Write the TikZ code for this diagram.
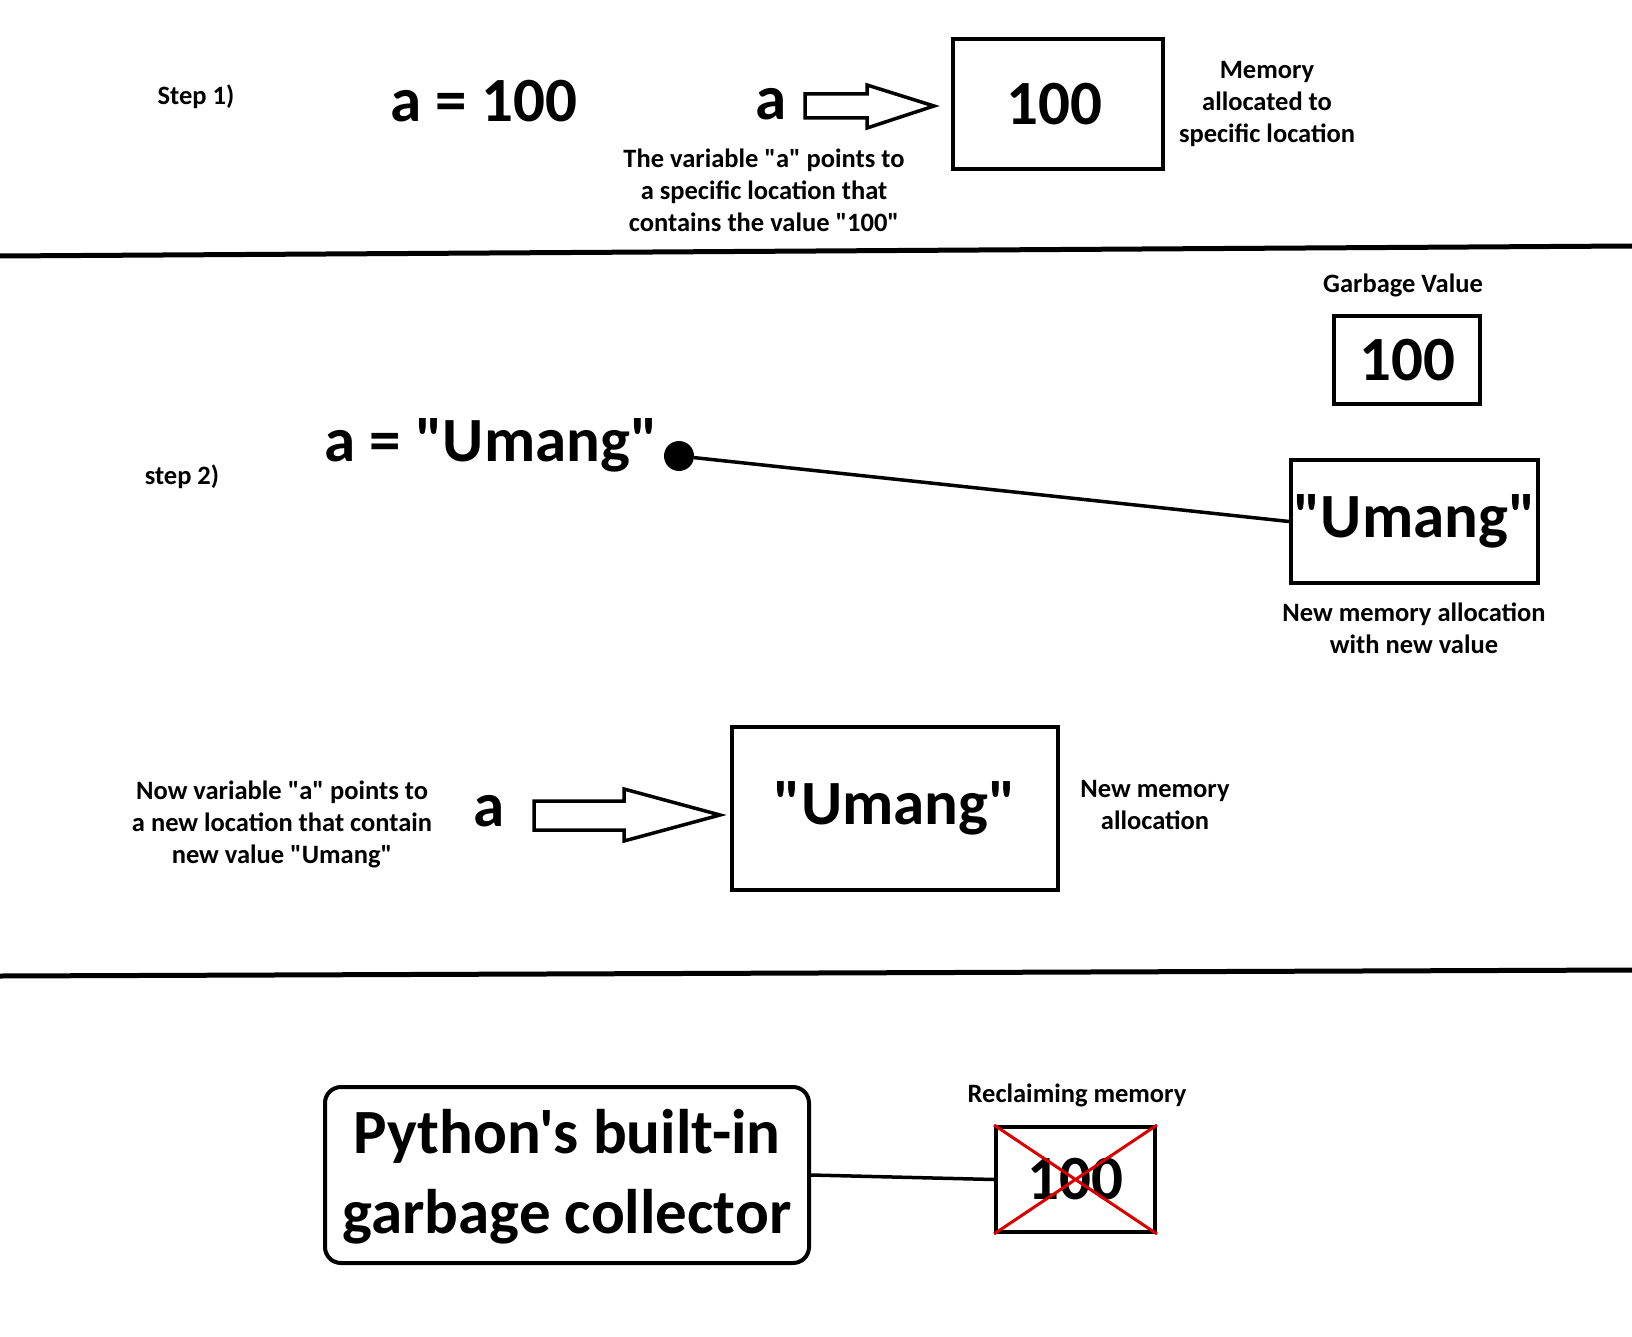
\documentclass[tikz,border=0pt]{standalone}
\usepackage{fontspec}
\setmainfont{Carlito}[Ligatures=TeXOff]
\newcommand\hugetxt{\fontsize{63}{55}\selectfont\bfseries}
\newcommand\gctxt{\fontsize{63}{80}\selectfont\bfseries}
\newcommand\smalltxt{\fontsize{26.5}{32}\selectfont\bfseries}
\begin{document}
\begin{tikzpicture}[x=1pt,y=-1pt,
  big/.style={inner sep=0pt,font=\hugetxt},
  lbl/.style={inner sep=0pt,font=\smalltxt,align=center},
  membox/.style={draw,line width=4pt,inner sep=0pt,font=\hugetxt},
  blockarrow/.style={draw,line width=3.5pt,fill=white,line join=miter},
  divider/.style={line width=5pt},
  link/.style={line width=3.5pt}]
\useasboundingbox (0,0) rectangle (1632,1337);
% Step 1
\node[lbl] (s1) at (196,97) {Step 1)};
\node[big] (eq1) at (484,101) {a = 100};
\node[big] (a1) at (771,104) {a};
\draw[blockarrow] (805,94) -- (867,94) -- (867,85) -- (934,106) -- (867,128) -- (867,118) -- (805,118) -- cycle;
\node[membox,minimum width=210pt,minimum height=130pt] (m1) at (1058,104) {\hspace{-8pt}100};
\node[lbl] (m1lbl) at (1267,104) {Memory\\allocated to\\specific location};
\node[lbl] (a1lbl) at (764,190) {The variable "a" points to\\a specific location that\\contains the value "100"};
\draw[divider] (0,256) -- (1632,246);
% Step 2
\node[lbl] (glbl) at (1403,285) {Garbage Value};
\node[membox,minimum width=146pt,minimum height=87pt] (g1) at (1407,360) {100};
\node[lbl] (s2) at (182,477) {step 2)};
\node[big] (eq2) at (491,445) {a = "Umang"};
\node[circle,fill=black,inner sep=0pt,minimum size=30pt] (dot) at (679,456) {};
\node[membox,minimum width=247pt,minimum height=123pt] (u1) at (1414.5,521.5) {"Umang"};
\draw[link] (dot) -- (u1.west);
\node[lbl] (u1lbl) at (1414,628) {New memory allocation\\with new value};
\node[lbl] (a2lbl) at (282,824) {Now variable "a" points to\\a new location that contain\\new value "Umang"};
\node[big] (a2) at (489,811) {a};
\draw[blockarrow] (534,801) -- (624,801) -- (624,789) -- (720,815) -- (624,841) -- (624,830) -- (534,830) -- cycle;
\node[membox,minimum width=326pt,minimum height=163pt] (u2) at (895,808.5) {"Umang"};
\node[lbl] (u2lbl) at (1155,805) {New memory\\allocation};
\draw[divider] (0,976) -- (1632,970);
% Step 3
\node[draw,line width=4pt,rounded corners=16pt,minimum width=484pt,minimum height=176pt,inner sep=0pt] (gc) at (567,1175) {};
\node[inner sep=0pt,font=\gctxt,align=center] (gctext) at (567,1177) {Python's built-in\\garbage collector};
\node[lbl] (rlbl) at (1077,1095) {Reclaiming memory};
\node[membox,minimum width=159pt,minimum height=105pt] (x1) at (1075.5,1179.5) {100};
\draw[red!85!black,line width=3pt] (x1.north west) -- (x1.south east) (x1.south west) -- (x1.north east);
\draw[link] (gc.east) -- (x1.west);
\end{tikzpicture}
\end{document}
